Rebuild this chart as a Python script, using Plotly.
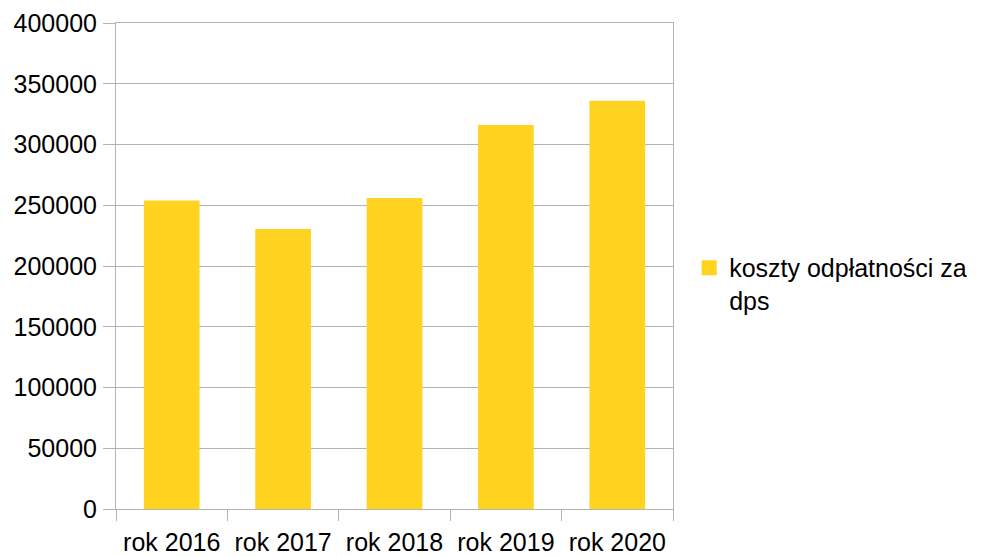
import plotly.graph_objects as go

# dane
lata = ["rok 2016", "rok 2017", "rok 2018", "rok 2019", "rok 2020"]
koszty = [254000, 230500, 256000, 316000, 336000]
nazwa_serii = "koszty odpłatności za<br>dps"

GRID = "#b3b3b3"
YELLOW = "#ffd320"
FONT = "Liberation Sans, Arial, sans-serif"

fig = go.Figure()

fig.add_trace(go.Bar(
    x=lata,
    y=koszty,
    name=nazwa_serii,
    marker=dict(color=YELLOW, line=dict(width=0)),
    showlegend=False,
))

# wpis legendy z większym kwadratem
fig.add_trace(go.Scatter(
    x=[None], y=[None],
    mode="markers",
    name=nazwa_serii,
    marker=dict(symbol="square", size=15, color=YELLOW),
    hoverinfo="skip",
))

fig.update_layout(
    width=980,
    height=549,
    margin=dict(l=108, r=315, t=15, b=48),
    paper_bgcolor="white",
    plot_bgcolor="white",
    font=dict(family=FONT, size=25, color="#000000"),
    bargap=0.5,
    legend=dict(
        x=1.029, y=0.463,
        xanchor="left", yanchor="middle",
        valign="top",
        font=dict(size=25),
        itemwidth=30,
        bgcolor="rgba(0,0,0,0)",
    ),
    xaxis=dict(
        type="category",
        automargin=False,
        showgrid=False,
        showline=True, linecolor=GRID, linewidth=1, mirror=True,
        ticks="outside", tickson="boundaries", ticklen=11, tickcolor=GRID,
        ticklabelstandoff=11,
        ticklabeloverflow="allow",
    ),
    yaxis=dict(
        automargin=False,
        range=[0, 400000],
        dtick=50000,
        tickformat="d",
        showgrid=True, gridcolor=GRID, gridwidth=1,
        zeroline=False,
        showline=True, linecolor=GRID, linewidth=1, mirror=True,
        ticks="outside", ticklen=12, tickcolor=GRID,
        ticklabelstandoff=1,
        ticklabeloverflow="allow",
    ),
)

fig.write_html("out.html")
